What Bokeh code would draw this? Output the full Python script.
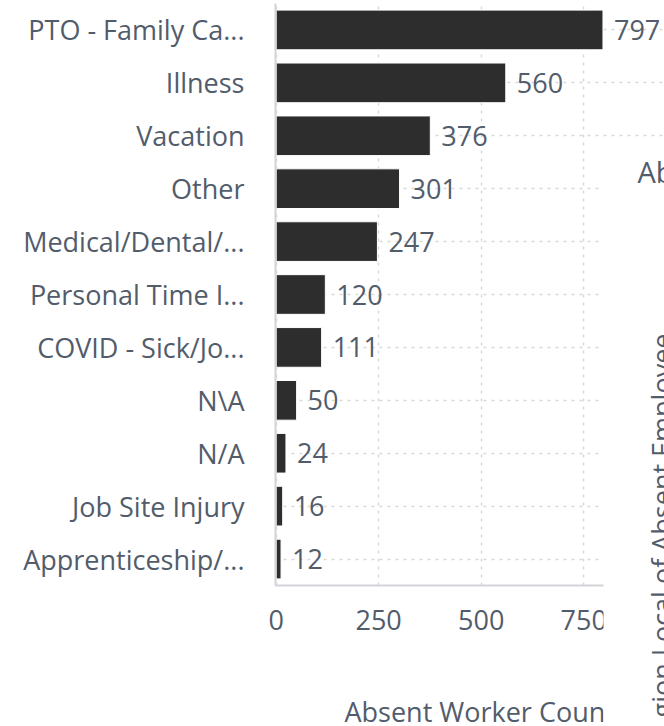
import math
from bokeh.plotting import figure
from bokeh.core.properties import value
from bokeh.models import (ColumnDataSource, FactorRange, Range1d, LabelSet, Label,
                          BoxAnnotation, FixedTicker, GridBox, Column)
from bokeh.embed import file_html
from bokeh.resources import INLINE

# ---- data ----
categories = ["PTO - Family Ca...", "Illness", "Vacation", "Other", "Medical/Dental/...",
              "Personal Time I...", "COVID - Sick/Jo...", "N\\A", "N/A", "Job Site Injury",
              "Apprenticeship/..."]
counts = [797, 560, 376, 301, 247, 120, 111, 50, 24, 16, 12]
x_ticks = [0, 250, 500, 750]
x_title = "Absent Worker Count"
side_title = "Ab"
right_title = "gion Local of Absent Employee"

TEXT = "#525c6b"
FONT = "Open Sans"
FS = "27px"
GRID = "#d9d9d9"
AXIS = "#d3d3da"
W, H = 664, 726

src = ColumnDataSource(dict(cat=categories, count=counts,
                            lbl=[str(v) for v in counts]))

p = figure(width=W, height=H,
           y_range=FactorRange(factors=list(reversed(categories))),
           x_range=Range1d(-1.5, 947),
           output_backend="svg", toolbar_location=None,
           min_border_left=275, min_border_right=0, min_border_top=3,
           min_border_bottom=141)
p.outline_line_color = None
p.background_fill_color = "white"

# grids
p.xgrid.ticker = FixedTicker(ticks=x_ticks)
for g in (p.xgrid, p.ygrid):
    g.grid_line_color = GRID
    g.grid_line_dash = "3 5"
    g.grid_line_width = 1.5

p.hbar(y="cat", left=0, right="count", height=0.75, source=src,
       fill_color="#2d2d2d", line_color="white", line_width=1)

labels = LabelSet(x="count", y="cat", text="lbl", source=src, x_offset=11,
                  text_baseline="middle", text_align="left",
                  text_font=value(FONT), text_font_size=FS, text_color=TEXT)
p.add_layout(labels)

# axes
p.xaxis.ticker = FixedTicker(ticks=x_ticks)
for ax in (p.xaxis, p.yaxis):
    ax.axis_line_color = AXIS
    ax.axis_line_width = 2
    ax.major_tick_line_color = None
    ax.minor_tick_line_color = None
    ax.major_tick_out = 0
    ax.major_tick_in = 0
    ax.major_label_text_font = FONT
    ax.major_label_text_font_size = FS
    ax.major_label_text_color = TEXT
p.xaxis.major_label_standoff = 24
p.yaxis.major_label_standoff = 31

# transparent overlay canvas (pixel coordinates) for texts outside the plot frame
q = figure(width=W, height=H, x_range=Range1d(0, W), y_range=Range1d(H, 0),
           x_axis_type=None, y_axis_type=None, output_backend="svg",
           toolbar_location=None, min_border=0)
q.outline_line_color = None
q.background_fill_alpha = 0
q.border_fill_alpha = 0
q.grid.visible = False

q.add_layout(Label(x=344, y=711, text=x_title, text_align="left",
                   text_baseline="alphabetic", text_font=FONT,
                   text_font_size=FS, text_color=TEXT))
# white right-hand panel that overlaps the chart
q.add_layout(BoxAnnotation(left=603, right=W, top=148, bottom=H,
                           fill_color="white", fill_alpha=1.0, line_color=None))
q.add_layout(Label(x=637, y=171, text=side_title, text_align="left",
                   text_baseline="alphabetic", text_font=FONT,
                   text_font_size="29px", text_color=TEXT))
q.add_layout(Label(x=661, y=333, text=right_title, text_align="right",
                   text_baseline="alphabetic", angle=math.pi / 2, text_font=FONT,
                   text_font_size=FS, text_color=TEXT))

layout = GridBox(children=[(p, 0, 0), (Column(children=[q]), 0, 0)])

open("out.html", "w").write(file_html(layout, INLINE))
